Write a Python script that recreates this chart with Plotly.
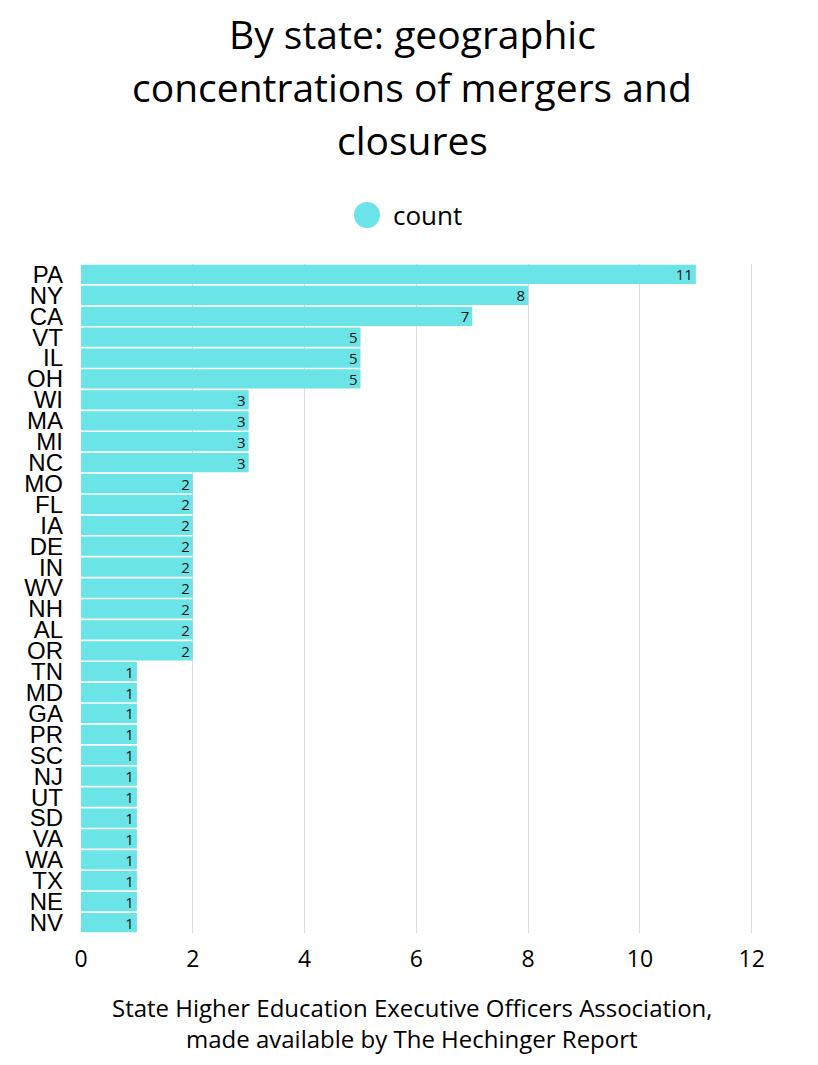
import plotly.graph_objects as go

states = ["PA", "NY", "CA", "VT", "IL", "OH", "WI", "MA", "MI", "NC", "MO", "FL", "IA", "DE",
          "IN", "WV", "NH", "AL", "OR", "TN", "MD", "GA", "PR", "SC", "NJ", "UT", "SD", "VA",
          "WA", "TX", "NE", "NV"]
counts = [11, 8, 7, 5, 5, 5, 3, 3, 3, 3, 2, 2, 2, 2, 2, 2, 2, 2, 2, 1, 1, 1, 1, 1, 1, 1, 1, 1,
          1, 1, 1, 1]
x_ticks = [0, 2, 4, 6, 8, 10, 12]

title_lines = ["By state: geographic", "concentrations of mergers and", "closures"]
source_lines = ["State Higher Education Executive Officers Association,",
                "made available by The Hechinger Report"]
series_name = "count"

COLOR = "#6BE4E8"
FONT = "Open Sans"

W, H = 818, 1065
OFF = 8  # page body margin
M_L, M_R, M_T, M_B = 73, 72, 256, 140
PLOT_H = H - M_T - M_B
PLOT_W = W - M_L - M_R


def py(y_page):
    """page pixel y -> paper coordinate"""
    return (H - M_B - (y_page - OFF)) / PLOT_H


def px(x_page):
    return (x_page - OFF - M_L) / PLOT_W


fig = go.Figure()
fig.add_trace(go.Bar(
    x=counts, y=states, orientation="h",
    marker=dict(color=COLOR, line=dict(width=0)),
    text=counts, textposition="inside", insidetextanchor="end", textangle=0,
    textfont=dict(size=15, color="#111111", family=FONT),
    showlegend=False, name=series_name,
))

fig.update_layout(
    width=W, height=H,
    paper_bgcolor="white", plot_bgcolor="white",
    margin=dict(l=M_L, r=M_R, t=M_T, b=M_B, autoexpand=False),
    bargap=0.08,
    showlegend=False,
    font=dict(family=FONT, color="#000000"),
    uniformtext=dict(minsize=14, mode="show"),
)
fig.update_xaxes(range=[0, 12.04], tickmode="array", tickvals=x_ticks, showgrid=True,
                 gridcolor="#dddddd", gridwidth=1, zeroline=False, showline=False,
                 tickfont=dict(size=23, family=FONT), ticks="", automargin=False,
                 ticklabelstandoff=10)
fig.update_yaxes(categoryorder="array", categoryarray=states, autorange="reversed",
                 tickmode="array", tickvals=states, ticktext=states,
                 showgrid=False, zeroline=False, showline=False, ticks="",
                 tickfont=dict(size=24, family="Liberation Sans"),
                 ticklabelstandoff=17, automargin=False)

# legend: circle swatch + series name
fig.add_shape(type="circle", xref="paper", yref="paper", xsizemode="pixel", ysizemode="pixel",
              xanchor=px(367), yanchor=py(215), x0=-13, x1=13, y0=-13, y1=13,
              fillcolor=COLOR, line=dict(width=0))
fig.add_annotation(text=series_name, xref="paper", yref="paper", x=px(391), y=py(215),
                   xanchor="left", yanchor="middle", showarrow=False,
                   font=dict(size=26, family=FONT, color="#000000"))

for line, yc in zip(title_lines, [34, 87, 139]):
    fig.add_annotation(text=line, xref="paper", yref="paper", x=px(412), y=py(yc),
                       xanchor="center", yanchor="middle", showarrow=False,
                       font=dict(size=39, family=FONT, color="#000000"))
for line, yc in zip(source_lines, [1007, 1038]):
    fig.add_annotation(text=line, xref="paper", yref="paper", x=px(412), y=py(yc),
                       xanchor="center", yanchor="middle", showarrow=False,
                       font=dict(size=24, family=FONT, color="#000000"))

fig.write_html("out.html")
